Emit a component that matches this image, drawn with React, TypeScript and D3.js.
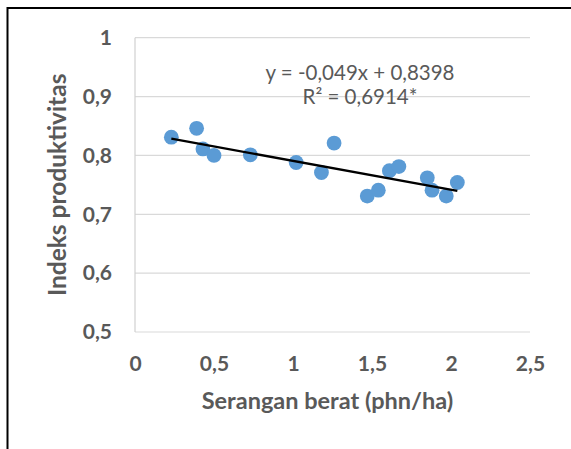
import { useEffect, useRef } from "react";
import * as d3 from "d3";

// Serangan berat (phn/ha) vs Indeks produktivitas
const seranganBerat = [0.23, 0.39, 0.43, 0.5, 0.73, 1.02, 1.18, 1.26, 1.47, 1.54, 1.61, 1.67, 1.85, 1.88, 1.97, 2.04];
const indeksProduktivitas = [0.831, 0.846, 0.811, 0.8, 0.801, 0.788, 0.771, 0.821, 0.731, 0.741, 0.774, 0.781, 0.762, 0.741, 0.731, 0.754];

const xTicks = [0, 0.5, 1, 1.5, 2, 2.5];
const yTicks = [0.5, 0.6, 0.7, 0.8, 0.9, 1];

const trendSlope = -0.049;
const trendIntercept = 0.8398;
const equationLines = ["y = -0,049x + 0,8398", "R² = 0,6914*"];

const xTitle = "Serangan berat (phn/ha)";
const yTitle = "Indeks produktivitas";

export default function App() {
    const svgRef = useRef<SVGSVGElement>(null);

    useEffect(() => {
        if (!svgRef.current) return;
        const svg = d3.select(svgRef.current);
        svg.selectAll("*").remove();

        const W = 571, H = 449;
        const plot = { left: 135, right: 530, top: 37.7, bottom: 332 };
        const font = "Lato, 'Open Sans', sans-serif";
        const textColor = "#595959";
        const locale = d3.formatLocale({ decimal: ",", thousands: ".", grouping: [3], currency: ["", ""] });
        const fmt = locale.format("~g");

        svg.attr("width", W).attr("height", H);

        // outer frame (cut by the image edges)
        svg.append("rect")
            .attr("x", 7.5).attr("y", 8)
            .attr("width", 700).attr("height", 600)
            .attr("fill", "white")
            .attr("stroke", "black")
            .attr("stroke-width", 2);

        const x = d3.scaleLinear().domain([0, 2.5]).range([plot.left, plot.right]);
        const y = d3.scaleLinear().domain([0.5, 1]).range([plot.bottom, plot.top]);

        // gridlines
        svg.append("g")
            .selectAll("line")
            .data(yTicks)
            .enter()
            .append("line")
            .attr("x1", plot.left).attr("x2", plot.right)
            .attr("y1", d => y(d)).attr("y2", d => y(d))
            .attr("stroke", "#d9d9d9")
            .attr("stroke-width", 1.2);

        // left axis line
        svg.append("line")
            .attr("x1", plot.left).attr("x2", plot.left)
            .attr("y1", plot.top).attr("y2", plot.bottom)
            .attr("stroke", "#d0d0d0")
            .attr("stroke-width", 1.2);

        // y tick labels
        const yAxis = svg.append("g")
            .attr("transform", `translate(${plot.left - 23},0)`)
            .call(d3.axisLeft(y).tickValues(yTicks).tickFormat(d => fmt(d as number)).tickSize(0).tickPadding(0));
        yAxis.select(".domain").remove();
        yAxis.selectAll("text")
            .attr("font-family", font)
            .attr("font-size", 21)
            .attr("font-weight", "bold")
            .attr("fill", textColor);

        // x tick labels
        const xAxis = svg.append("g")
            .attr("transform", `translate(0,${plot.bottom + 24})`)
            .call(d3.axisBottom(x).tickValues(xTicks).tickFormat(d => fmt(d as number)).tickSize(0).tickPadding(0));
        xAxis.select(".domain").remove();
        xAxis.selectAll("text")
            .attr("font-family", font)
            .attr("font-size", 21)
            .attr("font-weight", "bold")
            .attr("fill", textColor)
            .attr("dy", "0.71em");

        // axis titles
        svg.append("text")
            .attr("x", (plot.left + plot.right) / 2 - 5)
            .attr("y", 409)
            .attr("text-anchor", "middle")
            .attr("font-family", font)
            .attr("font-size", 23.5)
            .attr("font-weight", "bold")
            .attr("fill", textColor)
            .text(xTitle);

        svg.append("text")
            .attr("transform", `translate(66,${(plot.top + plot.bottom) / 2}) rotate(-90)`)
            .attr("text-anchor", "middle")
            .attr("font-family", font)
            .attr("font-size", 24.5)
            .attr("font-weight", "bold")
            .attr("fill", textColor)
            .text(yTitle);

        // points
        const data = seranganBerat.map((v, i) => ({ x: v, y: indeksProduktivitas[i] }));
        svg.append("g")
            .selectAll("circle")
            .data(data)
            .enter()
            .append("circle")
            .attr("cx", d => x(d.x))
            .attr("cy", d => y(d.y))
            .attr("r", 7.4)
            .attr("fill", "#5b9bd5");

        // linear trendline
        const [x0, x1] = d3.extent(seranganBerat) as [number, number];
        const trend = [x0, x1].map(v => ({ x: v, y: trendSlope * v + trendIntercept }));
        svg.append("path")
            .datum(trend)
            .attr("fill", "none")
            .attr("stroke", "black")
            .attr("stroke-width", 2.3)
            .attr("d", d3.line<{ x: number; y: number }>().x(d => x(d.x)).y(d => y(d.y)));

        // equation label
        svg.append("g")
            .selectAll("text")
            .data(equationLines)
            .enter()
            .append("text")
            .attr("x", 360)
            .attr("y", (d, i) => 80 + i * 24)
            .attr("text-anchor", "middle")
            .attr("font-family", font)
            .attr("font-size", 20.5)
            .attr("fill", textColor)
            .text(d => d);
    }, []);

    return <svg ref={svgRef} style={{ position: "absolute", left: 0, top: 0 }} />;
}
